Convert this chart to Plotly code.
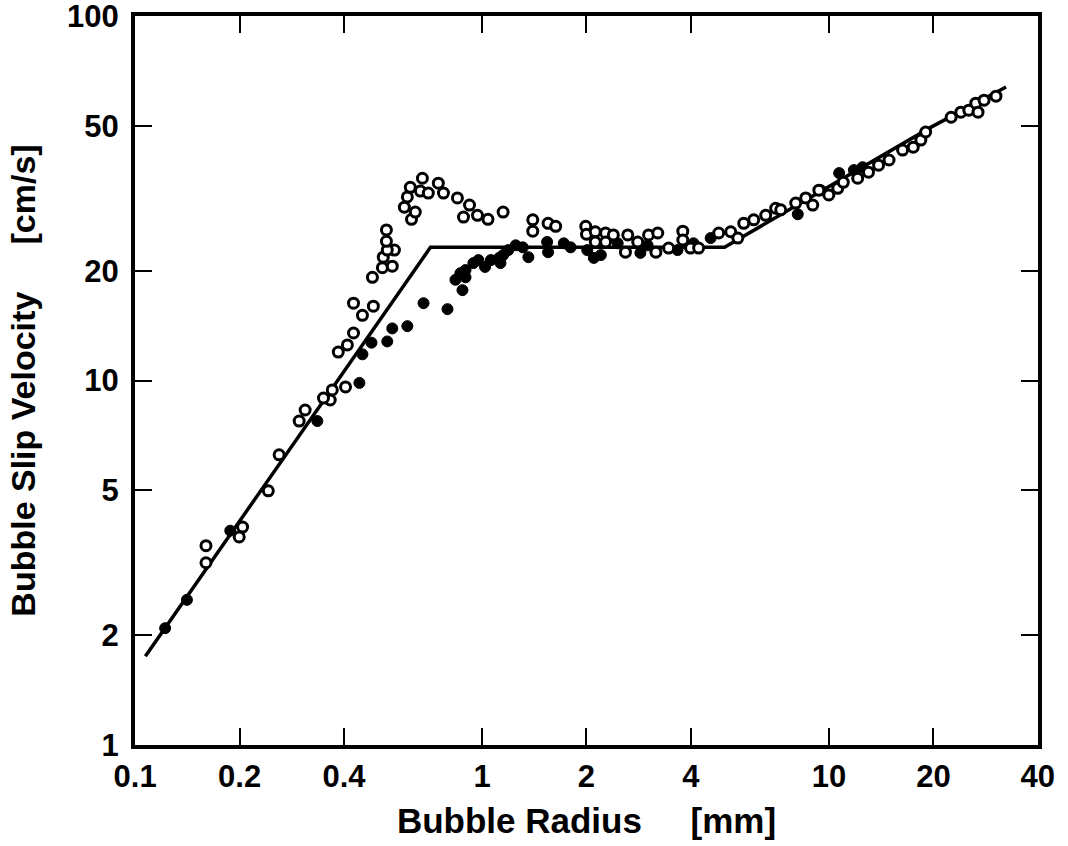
import plotly.graph_objects as go

# Open circles (radius mm, velocity cm/s)
open_r = [0.160, 0.160, 0.204, 0.1995, 0.242, 0.260, 0.297, 0.309, 0.365, 0.349, 0.370, 0.404,
          0.385, 0.409, 0.426, 0.452, 0.426, 0.486, 0.483, 0.516, 0.551, 0.519, 0.559, 0.533,
          0.530, 0.530, 0.626, 0.642, 0.597, 0.609, 0.621, 0.673, 0.664, 0.700, 0.748, 0.774,
          0.849, 0.920, 0.884, 0.970, 1.04, 1.15, 1.40, 1.40, 1.55, 1.63, 1.99, 2.00, 2.12,
          2.27, 2.39, 2.12, 2.27, 2.63, 2.59, 2.81, 3.02, 3.21, 3.17, 3.45, 3.79, 3.79, 3.99,
          4.21, 4.81, 5.21, 5.46, 5.68, 6.07, 6.57, 7.02, 7.26, 8.02, 8.57, 8.98, 9.35, 9.99,
          10.6, 11.0, 12.1, 13.0, 13.9, 14.9, 16.3, 17.5, 18.4, 19.0, 22.5, 24.0, 25.3, 26.5,
          28.0, 30.3, 26.9]
open_v = [3.52, 3.16, 3.96, 3.72, 4.98, 6.25, 7.74, 8.30, 8.84, 8.95, 9.42, 9.60,
          11.97, 12.52, 13.5, 15.1, 16.3, 16.0, 19.2, 20.4, 20.6, 21.8, 22.8, 22.8,
          24.1, 25.9, 27.7, 29.0, 29.9, 31.9, 33.9, 35.9, 33.1, 32.7, 34.8, 32.7,
          31.7, 30.3, 28.1, 28.4, 27.7, 29.0, 27.6, 25.7, 27.0, 26.5, 26.5, 25.2, 25.6,
          25.4, 25.1, 24.0, 24.0, 25.1, 22.5, 24.0, 25.1, 25.4, 22.5, 23.1, 25.7, 24.3, 23.1,
          23.1, 25.4, 25.6, 24.6, 27.0, 27.6, 28.4, 29.7, 29.4, 30.7, 31.7, 30.3, 33.3, 32.3,
          33.7, 35.0, 35.9, 37.3, 39.0, 40.3, 42.9, 43.7, 45.7, 48.1, 52.8, 54.5, 55.2, 57.7,
          58.8, 60.3, 54.5]

# Filled circles
fill_r = [0.122, 0.141, 0.188, 0.335, 0.443, 0.452, 0.480, 0.533, 0.551, 0.609, 0.678, 0.795,
          0.878, 0.838, 0.866, 0.896, 0.896, 0.944, 0.976, 1.02, 1.06, 1.12, 1.15, 1.19, 1.25,
          1.31, 1.36, 1.13, 1.54, 1.55, 1.72, 1.80, 2.01, 2.10, 2.20, 2.46, 2.86, 3.00, 3.66,
          4.07, 4.56, 8.13, 9.47, 10.7, 11.8, 12.5]
fill_v = [2.09, 2.50, 3.87, 7.74, 9.85, 11.8, 12.7, 12.8, 13.9, 14.1, 16.3, 15.7,
          17.7, 18.9, 19.7, 20.1, 19.2, 21.0, 21.4, 20.5, 21.4, 21.7, 22.1, 22.8, 23.5,
          23.2, 21.8, 21.0, 24.0, 22.5, 23.8, 23.2, 22.8, 21.7, 22.1, 23.8, 22.4, 23.5, 22.8,
          23.8, 24.6, 28.6, 33.3, 37.1, 37.8, 38.5]

# Model curve
line_r = [0.107, 0.710, 5.0, 19.7, 32.4]
line_v = [1.75, 23.2, 23.2, 49.6, 63.9]

x_ticks = [0.1, 0.2, 0.4, 1, 2, 4, 10, 20, 40]
x_ticktext = ["0.1", "0.2", "0.4", "1", "2", "4", "10", "20", "40"]
y_ticks = [1, 2, 5, 10, 20, 50, 100]
y_ticktext = ["1", "2", "5", "10", "20", "50", "100"]

FONT = "Liberation Sans, Arial, Helvetica, sans-serif"

fig = go.Figure()
fig.add_trace(go.Scatter(x=line_r, y=line_v, mode="lines",
                         line=dict(color="black", width=3.5), showlegend=False))
fig.add_trace(go.Scatter(x=fill_r, y=fill_v, mode="markers",
                         marker=dict(symbol="circle", size=11, color="black",
                                     line=dict(color="black", width=1)), showlegend=False))
fig.add_trace(go.Scatter(x=open_r, y=open_v, mode="markers",
                         marker=dict(symbol="circle", size=10, color="white",
                                     line=dict(color="black", width=3)), showlegend=False))

nb = "\u00a0"
fig.update_layout(
    width=1068, height=846,
    margin=dict(l=135, r=30, t=16, b=101),
    paper_bgcolor="white", plot_bgcolor="white",
    font=dict(family=FONT, color="black"),
    showlegend=False,
    xaxis=dict(
        type="log", range=[-1.0005, 1.6026], automargin=False,
        tickvals=x_ticks, ticktext=x_ticktext,
        ticks="inside", ticklen=17, tickwidth=2, tickcolor="black",
        showline=True, linewidth=4, linecolor="black", mirror="ticks",
        showgrid=False, zeroline=False,
        tickfont=dict(size=31, family=FONT, weight="bold"),
        ticklabelstandoff=1, ticklabeloverflow="allow",
        title=dict(text="Bubble Radius" + nb * 5 + "[mm]",
                   font=dict(size=35, family=FONT, weight="bold"), standoff=16),
    ),
    yaxis=dict(
        type="log", range=[-0.0005, 2.0005], automargin=False,
        tickvals=y_ticks, ticktext=y_ticktext,
        ticks="inside", ticklen=17, tickwidth=2, tickcolor="black",
        showline=True, linewidth=4, linecolor="black", mirror="ticks",
        showgrid=False, zeroline=False,
        tickfont=dict(size=31, family=FONT, weight="bold"),
        ticklabelstandoff=6, ticklabeloverflow="allow",
        title=dict(text="Bubble Slip Velocity" + nb * 5 + "[cm/s]",
                   font=dict(size=34, family=FONT, weight="bold"), standoff=22),
    ),
)

fig.write_html("out.html")
